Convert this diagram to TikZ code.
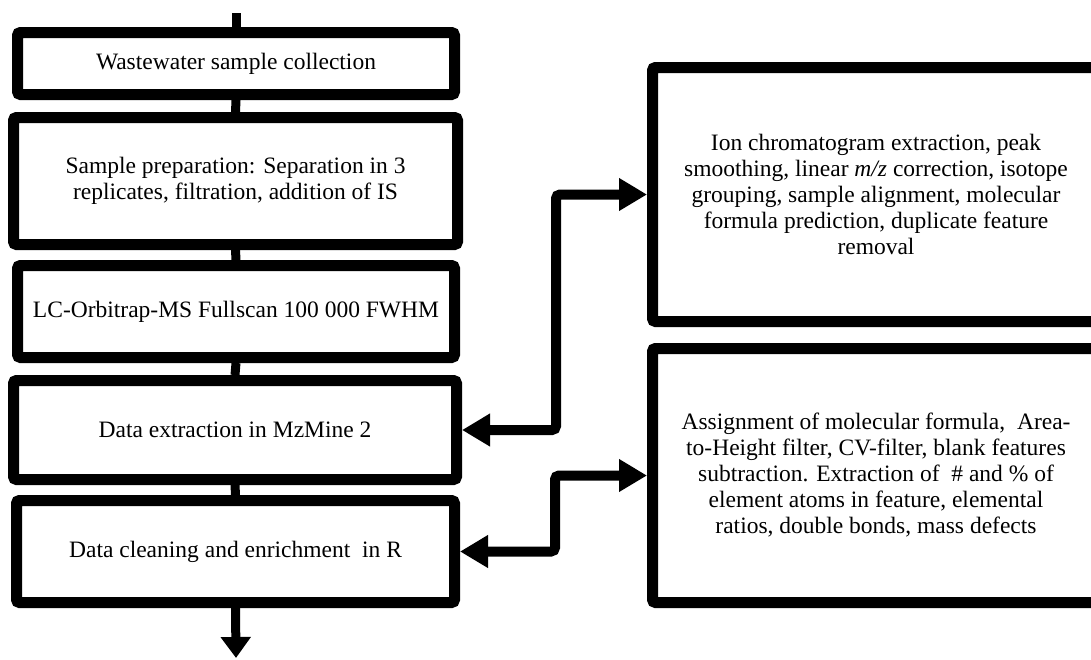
\documentclass[tikz,border=0pt]{standalone}
\usepackage{fontspec}
\setmainfont{Liberation Serif}
\usetikzlibrary{arrows.meta}
\begin{document}
\begin{tikzpicture}[x=1pt,y=1pt,
  flowbox/.style={draw=black, line width=11pt, rounded corners=3pt, fill=white,
    align=center, inner sep=0pt, font=\fontsize{23.5}{26}\selectfont},
  vconn/.style={line width=9pt},
  downarrow/.style={line width=9pt, -{Triangle[length=21pt,width=29pt]}},
  biconn/.style={line width=10pt, rounded corners=4pt,
    {Triangle[length=28pt,width=31pt]}-{Triangle[length=28pt,width=31pt]}},
]
\useasboundingbox (0,0) rectangle (1091,-659);
\fill[white] (0,0) rectangle (1091,-659);

\node[flowbox, minimum width=437pt, minimum height=62pt] (b1) at (236,-63.5)
  {Wastewater sample collection};
\node[flowbox, minimum width=444pt, minimum height=127pt] (b2) at (235.5,-181)
  {Sample preparation: Separation in 3\\replicates, filtration, addition of IS};
\node[flowbox, minimum width=437pt, minimum height=92pt] (b3) at (236,-311.5)
  {LC-Orbitrap-MS Fullscan 100 000 FWHM};
\node[flowbox, minimum width=443pt, minimum height=99pt] (b4) at (235,-430)
  {Data extraction in MzMine 2};
\node[flowbox, minimum width=438pt, minimum height=102pt] (b5) at (235.5,-551.5)
  {Data cleaning and enrichment\ \ in R};
\node[flowbox, minimum width=447pt, minimum height=254pt] (tr) at (876,-194.5)
  {Ion chromatogram extraction, peak\\smoothing, linear \textit{m/z} correction, isotope\\grouping, sample alignment, molecular\\formula prediction, duplicate feature\\removal};
\node[flowbox, minimum width=447pt, minimum height=254pt] (br) at (876,-475.5)
  {Assignment of molecular formula,\ \ Area-\\to-Height filter, CV-filter, blank features\\subtraction. Extraction of\ \ \# and \% of\\element atoms in feature, elemental\\ratios, double bonds, mass defects};

\coordinate (top) at (236,-13);
\coordinate (bottom) at (236,-658);
\coordinate (j1) at (556,0);
\coordinate (j2) at (555,0);

\draw[vconn] (top) -- (b1.north);
\draw[vconn] (b1.south) -- (b2.north);
\draw[vconn] (b2.south) -- (b3.north);
\draw[vconn] (b3.south) -- (b4.north);
\draw[vconn] (b4.south) -- (b5.north);
\draw[downarrow] (b5.south) -- (bottom);

\draw[biconn] (b4.east) -- (b4.east -| j1) |- (tr.west);
\draw[biconn] (b5.east) -- (b5.east -| j2) |- (br.west);
\end{tikzpicture}
\end{document}
